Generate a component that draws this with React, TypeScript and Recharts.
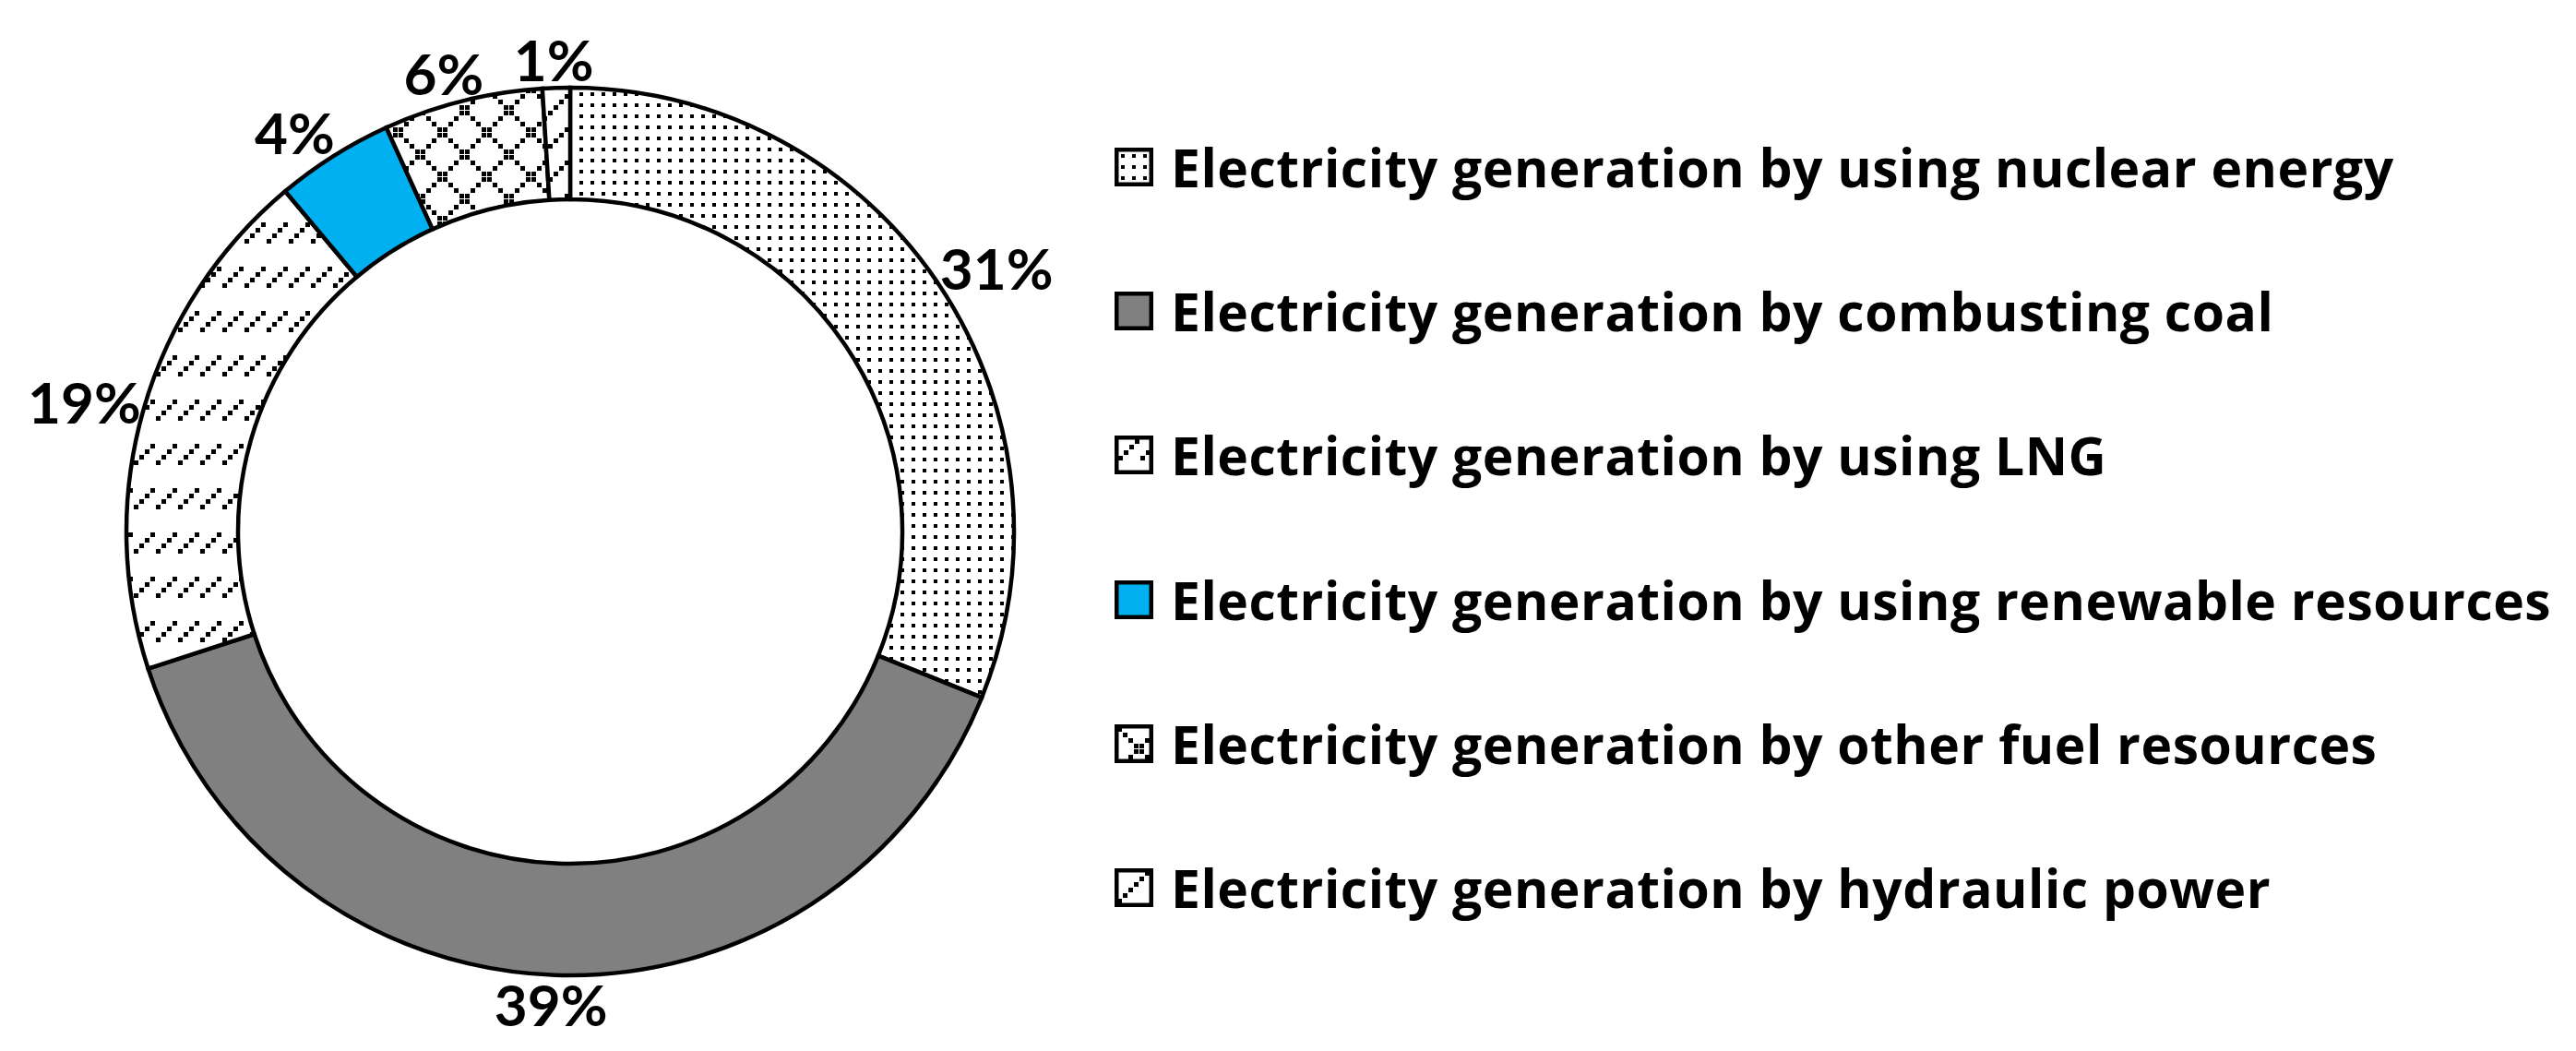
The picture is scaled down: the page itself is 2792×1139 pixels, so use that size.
import { PieChart, Pie, Cell, Legend } from "recharts";

const sources = [
  "Electricity generation by using nuclear energy",
  "Electricity generation by combusting coal",
  "Electricity generation by using LNG",
  "Electricity generation by using renewable resources",
  "Electricity generation by other fuel resources",
  "Electricity generation by hydraulic power",
];
const shares = [31.1, 38.9, 18.9, 4.3, 5.8, 1.0];
const shareLabels = ["31%", "39%", "19%", "4%", "6%", "1%"];
// "#..." = solid colour, otherwise a pattern id
const fills = ["dots", "#808080", "dash", "#00B0F0", "diamond", "diag"];

const tableData = sources.map((source, i) => ({ source, share: shares[i] }));

const LABEL_FONT = "Lato, 'Open Sans', sans-serif";
const LEGEND_FONT = "'Open Sans', Lato, sans-serif";
const RAD = Math.PI / 180;

const sq = (x: number, y: number, s: number, k: string) => (
  <rect key={k} x={x} y={y} width={s} height={s} fill="#000" />
);

function renderDefs(p: string, ox = 0, oy = 0) {
  const dash = [0, 1, 2, 3].map((i) => sq(1 + i * 6, 19 - i * 6, 5, "d" + i));
  const cross: any[] = [];
  for (let i = 0; i < 8; i++) {
    cross.push(sq(i * 6, i * 6, 5, "a" + i));
    cross.push(sq(i * 6, 42 - i * 6, 5, "b" + i));
  }
  const diag = [0, 1, 2, 3, 4, 5].map((i) => sq(i * 6, 30 - i * 6, 5, "g" + i));
  return (
    <defs>
      <pattern id={`${p}-dots`} x={ox} y={oy} width={12} height={12} patternUnits="userSpaceOnUse">
        <rect width={12} height={12} fill="#fff" />
        <rect x={4} y={4} width={4} height={4} fill="#000" />
      </pattern>
      <pattern id={`${p}-dash`} x={ox} y={oy} width={24} height={48} patternUnits="userSpaceOnUse">
        <rect width={24} height={48} fill="#fff" />
        {dash}
      </pattern>
      <pattern id={`${p}-diamond`} x={ox} y={oy} width={48} height={48} patternUnits="userSpaceOnUse">
        <rect width={48} height={48} fill="#fff" />
        {cross}
      </pattern>
      <pattern id={`${p}-diag`} x={ox} y={oy} width={36} height={36} patternUnits="userSpaceOnUse">
        <rect width={36} height={36} fill="#fff" />
        {diag}
      </pattern>
    </defs>
  );
}

const fillFor = (p: string, key: string) => (key.startsWith("#") ? key : `url(#${p}-${key})`);

// outside-end labels: box pushed off the ring along the slice's mid angle
const renderLabel = (props: any) => {
  const { cx, cy, midAngle, outerRadius, index } = props;
  const text = shareLabels[index];
  const dx = Math.cos(-midAngle * RAD);
  const dy = Math.sin(-midAngle * RAD);
  const r = outerRadius + 6;
  const w = text.length * 39;
  const h = 50;
  const sx = Math.max(-1, Math.min(1, dx * 2));
  const x = cx + r * dx + (w / 2) * sx;
  const y = cy + r * dy + (h / 2) * dy;
  return (
    <text
      x={x}
      y={y}
      textAnchor="middle"
      dominantBaseline="central"
      fontFamily={LABEL_FONT}
      fontWeight={700}
      fontSize={62}
      fill="#000"
    >
      {text}
    </text>
  );
};

// legend keeps the data order (recharts would sort it by name)
const renderLegend = () => (
  <div>
    {sources.map((name, i) => (
      <div key={name} style={{ display: "flex", alignItems: "center", height: 156.2 }}>
        <svg width={42} height={42} style={{ display: "block", flex: "none" }}>
          {renderDefs(`lg${i}`, 3, 3)}
          <rect
            x={2.25}
            y={2.25}
            width={37.5}
            height={37.5}
            fill={fillFor(`lg${i}`, fills[i])}
            stroke="#000"
            strokeWidth={4.5}
          />
        </svg>
        <span
          style={{
            marginLeft: 19,
            fontFamily: LEGEND_FONT,
            fontWeight: 700,
            fontSize: 57,
            letterSpacing: 0.5,
            color: "#000",
            whiteSpace: "nowrap",
          }}
        >
          {name}
        </span>
      </div>
    ))}
  </div>
);

export default function App() {
  return (
    <div style={{ position: "absolute", left: 0, top: 0, width: 2792, height: 1139, background: "#fff" }}>
      <PieChart width={2792} height={1139}>
        {renderDefs("pc")}
        <Pie
          data={tableData}
          dataKey="share"
          nameKey="source"
          cx={613}
          cy={571}
          innerRadius={360}
          outerRadius={481}
          startAngle={90}
          endAngle={-270}
          stroke="#000"
          strokeWidth={4.5}
          labelLine={false}
          label={renderLabel}
          isAnimationActive={false}
        >
          {tableData.map((d, i) => (
            <Cell key={d.source} fill={fillFor("pc", fills[i])} />
          ))}
        </Pie>
        <Legend
          content={renderLegend}
          layout="vertical"
          wrapperStyle={{ position: "absolute", left: 1208, top: 103, width: "auto" }}
        />
      </PieChart>
    </div>
  );
}
